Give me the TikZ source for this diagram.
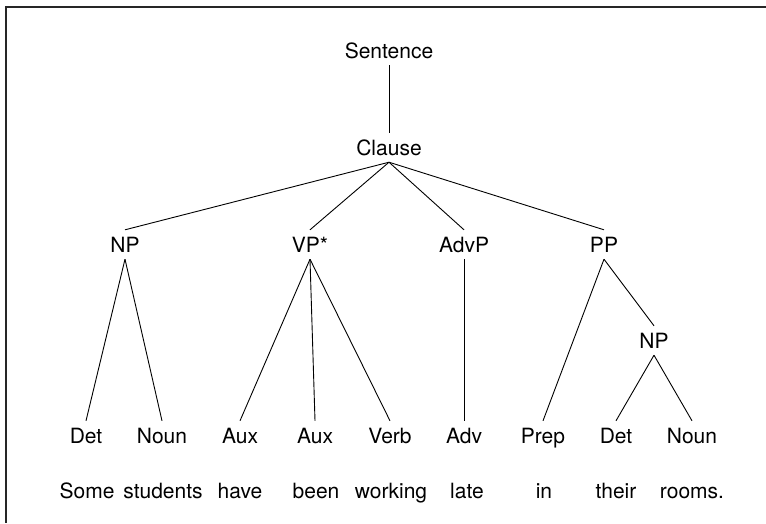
\documentclass[tikz,border=0pt]{standalone}
\usepackage{fontspec}
\setmainfont{TeX Gyre Heros}

\begin{document}
\begin{tikzpicture}[x=1pt,y=-1pt,
		tag/.style={anchor=base,inner xsep=0pt,inner ysep=7pt,text height=15pt,text depth=0pt,font=\fontsize{21}{25}\selectfont},
		branch/.style={line width=0.9pt}]
	\useasboundingbox (0,0) rectangle (766,523);
	\draw[line width=1.6pt,black!85] (766,7) -- (6,7) -- (6,523);
	% phrase levels
	\node[tag] (s) at (389,58) {Sentence};
	\node[tag] (cl) at (389,155) {Clause};
	\node[tag] (np) at (125,252) {NP};
	\node[tag] (vp) at (310,252) {VP*};
	\node[tag] (advp) at (464,252) {AdvP};
	\node[tag] (pp) at (604,252) {PP};
	\node[tag] (np2) at (654,348) {NP};
	% word classes
	\node[tag] (det) at (86,443) {Det};
	\node[tag] (noun) at (162,443) {Noun};
	\node[tag] (aux) at (240,443) {Aux};
	\node[tag] (aux2) at (315,443) {Aux};
	\node[tag] (verb) at (390,443) {Verb};
	\node[tag] (adv) at (464,443) {Adv};
	\node[tag] (prep) at (543,443) {Prep};
	\node[tag] (det2) at (616,443) {Det};
	\node[tag] (noun2) at (692,443) {Noun};
	% words
	\node[tag] (w1) at (87,498) {Some};
	\node[tag] (w2) at (163,498) {students};
	\node[tag] (w3) at (240,498) {have};
	\node[tag] (w4) at (316,498) {been};
	\node[tag] (w5) at (391,498) {working};
	\node[tag] (w6) at (467,498) {late};
	\node[tag] (w7) at (544,498) {in};
	\node[tag] (w8) at (616,498) {their};
	\node[tag] (w9) at (692,498) {rooms.};
	% branches
	\draw[branch] (s.south) to (cl.north);
	\draw[branch] (cl.south) to (np.north);
	\draw[branch] (cl.south) to (vp.north);
	\draw[branch] (cl.south) to (advp.north);
	\draw[branch] (cl.south) to (pp.north);
	\draw[branch] (np.south) to (det.north);
	\draw[branch] (np.south) to (noun.north);
	\draw[branch] (vp.south) to (aux.north);
	\draw[branch] (vp.south) to (aux2.north);
	\draw[branch] (vp.south) to (verb.north);
	\draw[branch] (advp.south) to (adv.north);
	\draw[branch] (pp.south) to (prep.north);
	\draw[branch] (pp.south) to (np2.north);
	\draw[branch] (np2.south) to (det2.north);
	\draw[branch] (np2.south) to (noun2.north);
\end{tikzpicture}
\end{document}
